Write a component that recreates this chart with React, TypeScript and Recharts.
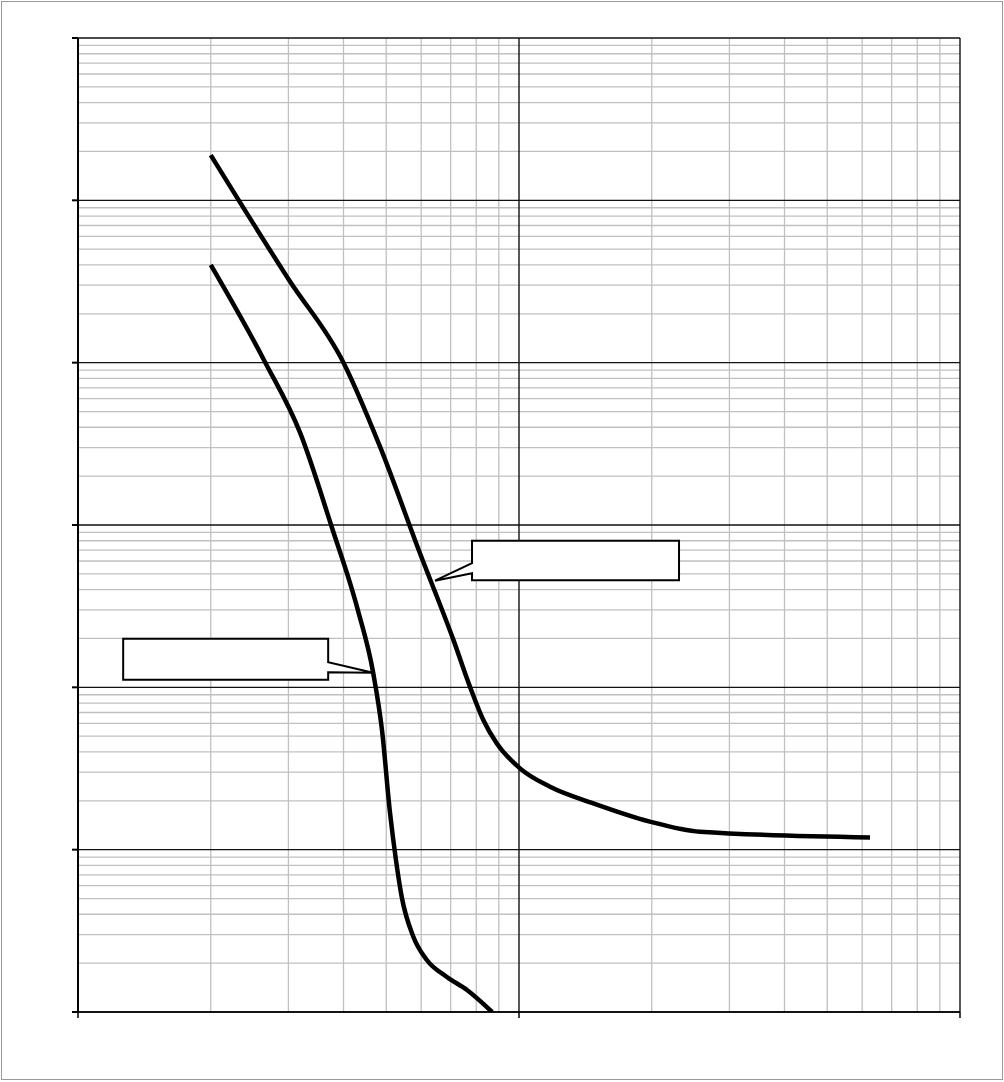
import { Line, LineChart, ReferenceDot, ReferenceLine, XAxis, YAxis } from "recharts"

// upper curve
const upperCurve = [
  { x: 2.0, y: 190000 },
  { x: 3.01, y: 32300 },
  { x: 4.0, y: 10000 },
  { x: 4.84, y: 3040 },
  { x: 5.96, y: 672 },
  { x: 7.1, y: 196 },
  { x: 7.74, y: 101 },
  { x: 8.3, y: 62.9 },
  { x: 8.9, y: 45.2 },
  { x: 10.05, y: 31.7 },
  { x: 11.76, y: 24.4 },
  { x: 14.74, y: 19.3 },
  { x: 19.8, y: 14.9 },
  { x: 25.7, y: 12.9 },
  { x: 62.5, y: 11.9 },
]

// lower curve
const lowerCurve = [
  { x: 2.0, y: 40000 },
  { x: 2.66, y: 10000 },
  { x: 3.19, y: 3690 },
  { x: 3.76, y: 976 },
  { x: 4.31, y: 300 },
  { x: 4.67, y: 123 },
  { x: 4.89, y: 54.6 },
  { x: 5.1, y: 16.8 },
  { x: 5.26, y: 8.64 },
  { x: 5.42, y: 5.13 },
  { x: 5.76, y: 2.91 },
  { x: 6.18, y: 2.09 },
  { x: 6.85, y: 1.65 },
  { x: 7.61, y: 1.37 },
  { x: 8.69, y: 1.0 },
]

const xMajor = [1, 10, 100]
const xMinor = [2, 3, 4, 5, 6, 7, 8, 9, 20, 30, 40, 50, 60, 70, 80, 90]
const yMajor = [1, 10, 100, 1000, 10000, 100000, 1000000]
const yMinor = [
  2, 3, 4, 5, 6, 7, 8, 9,
  20, 30, 40, 50, 60, 70, 80, 90,
  200, 300, 400, 500, 600, 700, 800, 900,
  2000, 3000, 4000, 5000, 6000, 7000, 8000, 9000,
  20000, 30000, 40000, 50000, 60000, 70000, 80000, 90000,
  200000, 300000, 400000, 500000, 600000, 700000, 800000, 900000,
]

// empty callout boxes, anchored at the point they point to
const leftCallout = { x: 4.67, y: 123 }
const rightCallout = { x: 6.45, y: 454 }

function LeftCallout(props: any) {
  const { cx, cy } = props
  const l = cx - 250
  const r = cx - 45
  const t = cy - 34
  const b = cy + 7
  const d = `M${l},${t} H${r} V${cy - 10.5} L${cx},${cy} L${r},${cy - 0.5} V${b} H${l} Z`
  return <path d={d} fill="#fff" stroke="#000" strokeWidth={2} />
}

function RightCallout(props: any) {
  const { cx, cy } = props
  const l = cx + 37
  const r = cx + 244
  const t = cy - 40
  const b = cy - 0.5
  const d = `M${l},${t} H${r} V${b} H${l} V${cy - 7.5} L${cx},${cy} L${l},${cy - 17.5} Z`
  return <path d={d} fill="#fff" stroke="#000" strokeWidth={2} />
}

const noTick = () => <g />

export default function App() {
  return (
    <div style={{ position: "relative", width: 1004, height: 1082 }}>
      <style>{`body{margin:0;background:#fff}`}</style>
      <LineChart width={1004} height={1082} margin={{ top: 38, right: 44, bottom: 69, left: 77 }}>
        <XAxis
          type="number"
          dataKey="x"
          scale="log"
          domain={[1, 100]}
          ticks={xMajor}
          tick={noTick}
          tickSize={6}
          height={1}
          allowDataOverflow
          stroke="#000"
          strokeWidth={1.5}
        />
        <YAxis
          type="number"
          dataKey="y"
          scale="log"
          domain={[1, 1000000]}
          ticks={yMajor}
          tick={noTick}
          tickSize={6}
          width={1}
          allowDataOverflow
          stroke="#000"
          strokeWidth={2}
        />
        {yMinor.map((v) => (
          <ReferenceLine key={`ym${v}`} y={v} stroke="#c0c0c0" strokeWidth={1.3} />
        ))}
        {xMinor.map((v) => (
          <ReferenceLine key={`xm${v}`} x={v} stroke="#c0c0c0" strokeWidth={1.3} />
        ))}
        {yMajor.map((v) => (
          <ReferenceLine key={`yM${v}`} y={v} stroke="#111" strokeWidth={1.4} />
        ))}
        {xMajor.map((v) => (
          <ReferenceLine key={`xM${v}`} x={v} stroke="#111" strokeWidth={1.4} />
        ))}
        <Line
          data={upperCurve}
          dataKey="y"
          type="monotone"
          stroke="#000"
          strokeWidth={4.5}
          dot={false}
          isAnimationActive={false}
        />
        <Line
          data={lowerCurve}
          dataKey="y"
          type="monotone"
          stroke="#000"
          strokeWidth={4.5}
          dot={false}
          isAnimationActive={false}
        />
        <ReferenceDot x={leftCallout.x} y={leftCallout.y} shape={LeftCallout} />
        <ReferenceDot x={rightCallout.x} y={rightCallout.y} shape={RightCallout} />
      </LineChart>
      <div
        style={{
          position: "absolute",
          left: 1,
          top: 1,
          width: 1002,
          height: 1079,
          border: "1.5px solid #999",
          boxSizing: "border-box",
          pointerEvents: "none",
        }}
      />
    </div>
  )
}
